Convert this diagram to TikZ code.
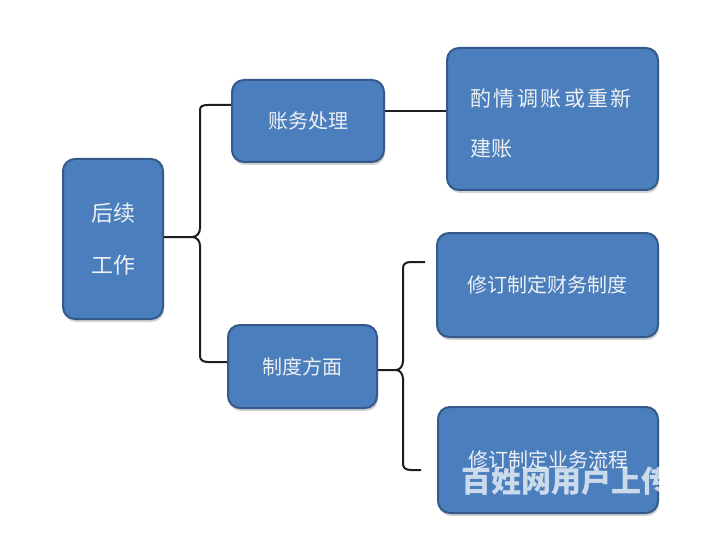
\documentclass[tikz,border=0pt]{standalone}
\usepackage{fontspec}
\setmainfont{Noto Sans CJK SC}
\usetikzlibrary{shadows}
\definecolor{boxfill}{HTML}{4A7EBD}
\definecolor{boxdraw}{HTML}{34598A}
\definecolor{txt}{HTML}{EEF0F4}
\definecolor{linec}{HTML}{1E1E1E}
\newcommand{\gp}{\hspace{2.5pt}}
\begin{document}
\begin{tikzpicture}[x=1pt,y=-1pt,
  bluebox/.style={draw=boxdraw,line width=2pt,fill=boxfill,rounded corners=12pt,
    drop shadow={shadow xshift=1pt,shadow yshift=-3pt,opacity=0.35},
    text=txt,font=\fontsize{20}{30}\selectfont,inner sep=0pt},
  conn/.style={draw=linec,line width=2pt}]
\fill[white] (0,0) rectangle (720,540);
\useasboundingbox (0,0) rectangle (720,540);
\node[bluebox,minimum width=100pt,minimum height=160pt,align=center,font=\fontsize{22}{52}\selectfont] (hx) at (113,239) {后续\\工作};
\node[bluebox,minimum width=152pt,minimum height=82pt] (zw) at (308,121) {账务处理};
\node[bluebox,minimum width=149pt,minimum height=83pt] (zd) at (302.5,366.5) {制度方面};
\node[bluebox,minimum width=211pt,minimum height=142pt] (zq) at (552.5,119) {};
\node[text=txt,inner sep=0pt,text width=180pt,align=left,font=\fontsize{21}{50}\selectfont] (zqt) at (560,124) {酌\gp 情\gp 调\gp 账\gp 或\gp 重\gp 新\\建账};
\node[bluebox,minimum width=221pt,minimum height=104pt] (xc) at (547.5,285) {修订制定财务制度};
\node[bluebox,minimum width=220pt,minimum height=106pt] (xy) at (548,460) {修订制定业务流程};
% left brace
\draw[conn] (hx.east |- 0,237) -- (192,237) .. controls (197,237) and (200,233) .. (200,228)
  -- (200,110) .. controls (200,106) and (203,105) .. (208,105) -- (zw.west |- 0,105);
\draw[conn] (192,237) .. controls (197,237) and (200,241) .. (200,246)
  -- (200,356) .. controls (200,360) and (203,362) .. (208,362) -- (zd.west |- 0,362);
% straight connector
\draw[conn] (zw.east |- 0,111) -- (zq.west |- 0,111);
% right brace
\draw[conn] (zd.east |- 0,370) -- (396,370) .. controls (400,370) and (403,366) .. (403,361)
  -- (403,268) .. controls (403,264) and (406,262) .. (411,262) -- (425,262);
\draw[conn] (396,370) .. controls (400,370) and (403,374) .. (403,379)
  -- (403,464) .. controls (403,468) and (406,470) .. (411,470) -- (421,470);
% watermark
\node[anchor=west,text=white,opacity=0.72,font=\fontsize{30}{30}\selectfont\bfseries,inner sep=0pt] (wm) at (461,481) {百姓网用户上传};
\end{tikzpicture}
\end{document}
